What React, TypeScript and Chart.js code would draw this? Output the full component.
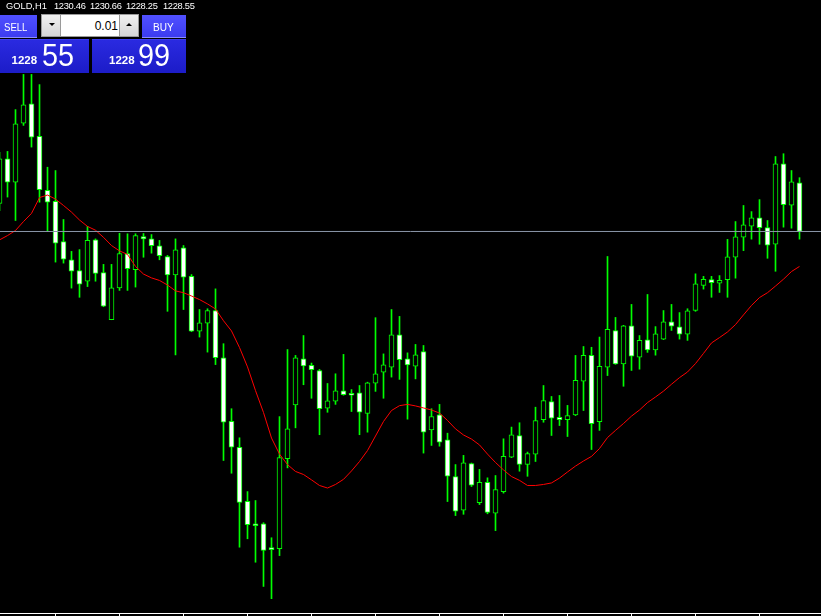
import React, { useEffect, useRef } from "react";
import { Chart, registerables } from "chart.js";

Chart.register(...registerables);

// ---- data (XAUUSD / GOLD, H1) ----
const opens = [
  1229.65, 1231.40, 1230.48, 1232.80, 1233.56, 1232.28, 1230.16, 1229.73, 1228.15, 1227.44,
  1227.02, 1226.60, 1228.22, 1226.94, 1225.09, 1226.34, 1227.68, 1227.05, 1228.35, 1228.26,
  1227.99, 1227.57, 1226.85, 1227.91, 1226.79, 1224.64, 1224.95, 1225.45, 1223.60, 1221.11,
  1220.09, 1217.97, 1217.09, 1217.09, 1216.15, 1216.11, 1219.64, 1221.75, 1223.56, 1223.30,
  1223.10, 1221.62, 1221.90, 1222.30, 1222.20, 1222.22, 1221.42, 1222.60, 1223.03, 1223.23,
  1224.50, 1223.56, 1223.27, 1223.84, 1220.77, 1221.36, 1220.38, 1218.94, 1217.62, 1219.45,
  1217.92, 1218.71, 1217.50, 1218.35, 1219.70, 1220.55, 1219.42, 1219.82, 1221.17, 1221.88,
  1221.26, 1221.17, 1221.36, 1222.68, 1223.69, 1221.09, 1223.23, 1224.66, 1223.36, 1224.85,
  1223.62, 1224.30, 1223.91, 1224.33, 1225.01, 1224.81, 1224.52, 1225.45, 1226.44, 1226.66,
  1226.52, 1226.66, 1227.54, 1228.33, 1228.76, 1229.09, 1228.70, 1228.05, 1231.20, 1229.58,
  1230.46,
];
const highs = [
  1231.65, 1231.69, 1233.33, 1234.71, 1234.71, 1234.31, 1231.07, 1230.94, 1229.02, 1227.77,
  1227.84, 1228.75, 1228.26, 1227.26, 1227.26, 1228.48, 1228.46, 1228.46, 1228.47, 1228.43,
  1228.20, 1227.61, 1228.26, 1228.00, 1226.86, 1225.49, 1225.52, 1226.30, 1224.15, 1221.60,
  1220.46, 1218.35, 1218.00, 1217.13, 1216.54, 1221.29, 1223.92, 1223.69, 1224.47, 1223.39,
  1223.14, 1222.59, 1222.97, 1223.73, 1222.35, 1222.51, 1222.64, 1225.17, 1223.75, 1225.49,
  1225.22, 1223.79, 1224.12, 1224.08, 1221.60, 1221.77, 1220.64, 1219.41, 1219.77, 1219.47,
  1219.22, 1218.89, 1218.98, 1220.42, 1220.88, 1221.05, 1219.90, 1221.66, 1222.51, 1222.08,
  1222.12, 1221.73, 1223.69, 1224.04, 1224.01, 1224.41, 1227.57, 1225.18, 1224.87, 1225.69,
  1224.47, 1226.08, 1224.82, 1225.45, 1225.69, 1225.37, 1225.52, 1226.89, 1226.79, 1226.79,
  1226.82, 1228.24, 1228.94, 1229.57, 1229.33, 1229.80, 1228.98, 1231.49, 1231.60, 1230.94,
  1230.66,
];
const lows = [
  1229.37, 1229.90, 1228.98, 1232.71, 1231.86, 1229.70, 1228.55, 1227.35, 1227.31, 1226.33,
  1225.97, 1226.39, 1226.60, 1225.60, 1225.09, 1226.24, 1226.24, 1226.37, 1227.54, 1227.70,
  1227.44, 1225.42, 1223.71, 1225.49, 1224.62, 1224.41, 1223.82, 1223.33, 1219.57, 1219.07,
  1216.17, 1216.50, 1215.58, 1214.63, 1214.15, 1215.84, 1219.28, 1220.85, 1222.54, 1222.01,
  1220.58, 1221.46, 1221.77, 1222.13, 1221.49, 1220.58, 1220.68, 1222.28, 1222.01, 1222.84,
  1222.75, 1221.19, 1222.77, 1219.86, 1220.16, 1220.13, 1217.96, 1217.41, 1217.46, 1218.55,
  1217.84, 1217.48, 1216.82, 1218.29, 1219.68, 1219.15, 1218.95, 1219.53, 1221.07, 1220.55,
  1220.94, 1220.51, 1221.33, 1221.53, 1220.00, 1220.75, 1222.90, 1223.34, 1222.48, 1223.10,
  1223.15, 1223.81, 1223.70, 1224.31, 1224.67, 1224.33, 1224.28, 1225.42, 1226.29, 1225.97,
  1226.16, 1225.97, 1226.72, 1227.80, 1228.25, 1228.05, 1227.50, 1226.99, 1228.72, 1228.68,
  1228.25,
];
const closes = [
  1231.40, 1230.48, 1232.77, 1233.52, 1232.25, 1230.19, 1229.70, 1228.09, 1227.46, 1226.99,
  1226.48, 1228.20, 1226.91, 1225.62, 1226.34, 1227.68, 1227.09, 1228.39, 1228.26, 1227.99,
  1227.60, 1226.85, 1227.83, 1226.76, 1224.64, 1224.97, 1225.45, 1223.60, 1221.07, 1220.09,
  1217.93, 1217.05, 1217.01, 1216.04, 1216.07, 1219.68, 1220.81, 1223.60, 1223.28, 1223.13,
  1221.60, 1221.91, 1222.30, 1222.15, 1222.13, 1221.46, 1222.62, 1222.97, 1223.32, 1224.50,
  1223.52, 1223.32, 1223.71, 1220.68, 1221.29, 1220.29, 1218.95, 1217.58, 1219.48, 1218.60,
  1218.71, 1217.53, 1218.43, 1219.73, 1220.58, 1219.42, 1219.84, 1221.13, 1221.92, 1221.23,
  1221.17, 1221.33, 1222.71, 1223.69, 1221.01, 1223.26, 1224.71, 1223.36, 1224.85, 1223.66,
  1224.28, 1223.91, 1224.54, 1225.01, 1224.84, 1224.52, 1225.44, 1226.50, 1226.67, 1226.54,
  1226.63, 1227.56, 1228.34, 1228.81, 1229.09, 1228.70, 1228.01, 1231.20, 1229.60, 1230.50,
  1228.55,
];
const maValues = [
  1228.22, 1228.39, 1228.59, 1228.94, 1229.26, 1229.88, 1229.98, 1229.82, 1229.57, 1229.31,
  1229.00, 1228.75, 1228.60, 1228.32, 1228.00, 1227.79, 1227.65, 1227.18, 1226.88, 1226.73,
  1226.63, 1226.45, 1226.22, 1226.15, 1226.02, 1225.88, 1225.71, 1225.51, 1225.05, 1224.65,
  1224.00, 1223.24, 1222.31, 1221.45, 1220.45, 1219.82, 1219.41, 1219.14, 1219.02, 1218.81,
  1218.59, 1218.49, 1218.63, 1218.83, 1219.16, 1219.53, 1219.96, 1220.53, 1221.10, 1221.53,
  1221.72, 1221.77, 1221.71, 1221.63, 1221.55, 1221.43, 1221.14, 1220.81, 1220.57, 1220.41,
  1220.18, 1219.82, 1219.49, 1219.20, 1218.94, 1218.79, 1218.59, 1218.59, 1218.63, 1218.69,
  1218.88, 1219.12, 1219.35, 1219.55, 1219.73, 1220.04, 1220.47, 1220.75, 1221.02, 1221.31,
  1221.55, 1221.84, 1222.06, 1222.29, 1222.56, 1222.82, 1223.04, 1223.37, 1223.77, 1224.18,
  1224.39, 1224.61, 1224.90, 1225.28, 1225.65, 1225.96, 1226.15, 1226.41, 1226.68, 1226.98,
  1227.18,
];
const timeTickIndex = [7, 15, 23, 31, 39, 47, 55, 63, 71, 79, 87, 95];
const bidPrice = 1228.55;
const symbolLabel = "GOLD,H1";
const headerValues = ["1230.46", "1230.66", "1228.25", "1228.55"];
const lotSize = "0.01";
const sellBig = ["1228", "55"];
const buyBig = ["1228", "99"];

// ---- view window ----
const X_MIN = 0.0625;
const X_MAX = 102.6875;
const Y_MAX = 1237.628;
const Y_MIN = 1213.589;

const FONT = "'Liberation Sans', Arial, sans-serif";

export default function App() {
  const canvasRef = useRef<HTMLCanvasElement | null>(null);

  useEffect(() => {
    document.body.style.margin = "0";
    document.body.style.background = "#000";
    const canvas = canvasRef.current;
    if (!canvas) return;
    const idx = opens.map((_, i) => i);
    const chart = new Chart(canvas, {
      type: "bar",
      data: {
        datasets: [
          {
            type: "line",
            label: "Bid",
            data: [
              { x: X_MIN, y: bidPrice },
              { x: X_MAX, y: bidPrice },
            ],
            borderColor: "#8a96a8",
            borderWidth: 1,
            pointRadius: 0,
            order: 0,
          } as any,
          {
            type: "line",
            label: "MA",
            data: idx.map((i) => ({ x: i, y: maValues[i] })),
            borderColor: "#ff0000",
            borderWidth: 1,
            pointRadius: 0,
            tension: 0,
            order: 1,
          } as any,
          {
            type: "bar",
            label: "Body",
            data: idx.map((i) => ({ x: i, y: [opens[i], closes[i]] })),
            backgroundColor: idx.map((i) => (closes[i] < opens[i] ? "#ffffff" : "#000000")),
            borderColor: "#00ff00",
            borderWidth: 1,
            borderSkipped: false,
            barThickness: 5,
            grouped: false,
            order: 2,
          } as any,
          {
            type: "bar",
            label: "Wick",
            data: idx.map((i) => ({ x: i, y: [lows[i], highs[i]] })),
            backgroundColor: "#00ff00",
            borderWidth: 0,
            barThickness: 1,
            grouped: false,
            order: 3,
          } as any,
        ],
      },
      options: {
        responsive: false,
        maintainAspectRatio: false,
        animation: false,
        layout: { padding: 0 },
        plugins: {
          legend: { display: false },
          tooltip: { enabled: false },
        },
        scales: {
          x: {
            type: "linear",
            min: X_MIN,
            max: X_MAX,
            offset: false,
            grid: {
              display: true,
              offset: false,
              drawOnChartArea: false,
              drawTicks: true,
              tickLength: 3,
              color: "#ffffff",
              lineWidth: 1,
            },
            border: { display: true, color: "#ffffff", width: 1 },
            ticks: { display: false },
            afterBuildTicks: (scale: any) => {
              scale.ticks = timeTickIndex.map((v) => ({ value: v }));
            },
          },
          y: {
            type: "linear",
            display: false,
            min: Y_MIN,
            max: Y_MAX,
          },
        },
      } as any,
    });
    return () => chart.destroy();
  }, []);

  const txt = (s: React.CSSProperties): React.CSSProperties => ({
    position: "absolute",
    whiteSpace: "nowrap",
    fontFamily: FONT,
    ...s,
  });

  const headerLeft = [54, 90, 126, 163];

  return (
    <div
      style={{
        position: "relative",
        width: 821,
        height: 616,
        background: "#000",
        overflow: "hidden",
      }}
    >
      <canvas ref={canvasRef} width={821} height={616} style={{ display: "block" }} />

      {/* header line */}
      <span style={txt({ left: 6, top: 2, fontSize: 9.3, lineHeight: "9.3px", color: "#fff" })}>
        {symbolLabel}
      </span>
      {headerValues.map((v, k) => (
        <span
          key={k}
          style={txt({ left: headerLeft[k], top: 2, fontSize: 9.3, lineHeight: "9.3px", color: "#fff", letterSpacing: "-0.3px" })}
        >
          {v}
        </span>
      ))}

      {/* SELL button */}
      <div
        style={{
          position: "absolute",
          left: 0,
          top: 15,
          width: 37,
          height: 22,
          background: "linear-gradient(#5050ff, #3c3cf0)",
          borderBottom: "1px solid #8c8cff",
        }}
      />
      <span
        style={txt({
          left: 4,
          top: 20.8,
          fontSize: 11.7,
          lineHeight: "11.7px",
          color: "#fff",
          transform: "scaleX(0.82)",
          transformOrigin: "left top",
        })}
      >
        SELL
      </span>

      {/* lot control */}
      <div
        style={{
          position: "absolute",
          left: 41,
          top: 14,
          width: 98,
          height: 23,
          background: "#9a9a9a",
        }}
      />
      <div
        style={{
          position: "absolute",
          left: 42,
          top: 15,
          width: 18,
          height: 21,
          background: "linear-gradient(#f0f0f0, #d6d6d6)",
        }}
      />
      <div
        style={{
          position: "absolute",
          left: 61,
          top: 15,
          width: 58,
          height: 21,
          background: "#ffffff",
        }}
      />
      <div
        style={{
          position: "absolute",
          left: 120,
          top: 15,
          width: 18,
          height: 21,
          background: "linear-gradient(#f0f0f0, #d6d6d6)",
        }}
      />
      {/* arrows */}
      <div
        style={{
          position: "absolute",
          left: 49,
          top: 23,
          width: 0,
          height: 0,
          borderLeft: "3px solid transparent",
          borderRight: "3px solid transparent",
          borderTop: "3px solid #000",
        }}
      />
      <div
        style={{
          position: "absolute",
          left: 126,
          top: 23,
          width: 0,
          height: 0,
          borderLeft: "3px solid transparent",
          borderRight: "3px solid transparent",
          borderBottom: "3px solid #000",
        }}
      />
      <span
        style={txt({
          right: 821 - 118,
          top: 19.8,
          fontSize: 12,
          lineHeight: "12px",
          color: "#000",
        })}
      >
        {lotSize}
      </span>

      {/* BUY button */}
      <div
        style={{
          position: "absolute",
          left: 142,
          top: 15,
          width: 44,
          height: 22,
          background: "linear-gradient(#5050ff, #3c3cf0)",
          borderBottom: "1px solid #8c8cff",
        }}
      />
      <span
        style={txt({
          left: 152.5,
          top: 20.8,
          fontSize: 11.7,
          lineHeight: "11.7px",
          color: "#fff",
          transform: "scaleX(0.86)",
          transformOrigin: "left top",
        })}
      >
        BUY
      </span>

      {/* price boxes */}
      <div
        style={{
          position: "absolute",
          left: 0,
          top: 39,
          width: 89,
          height: 33,
          background: "linear-gradient(#2a2ae0, #1c1cc8)",
          borderTop: "1px solid #3a3af0",
        }}
      />
      <div
        style={{
          position: "absolute",
          left: 92,
          top: 39,
          width: 94,
          height: 33,
          background: "linear-gradient(#2a2ae0, #1c1cc8)",
          borderTop: "1px solid #3a3af0",
        }}
      />
      <span
        style={txt({ left: 11.5, top: 54.6, fontSize: 11.5, lineHeight: "11.5px", fontWeight: "bold", color: "#fff" })}
      >
        {sellBig[0]}
      </span>
      <span
        style={txt({
          left: 42,
          top: 38.6,
          fontSize: 32,
          lineHeight: "32px",
          color: "#fff",
          transform: "scaleX(0.9)",
          transformOrigin: "left top",
        })}
      >
        {sellBig[1]}
      </span>
      <span
        style={txt({ left: 109, top: 54.6, fontSize: 11.5, lineHeight: "11.5px", fontWeight: "bold", color: "#fff" })}
      >
        {buyBig[0]}
      </span>
      <span
        style={txt({
          left: 138.3,
          top: 38.6,
          fontSize: 32,
          lineHeight: "32px",
          color: "#fff",
          transform: "scaleX(0.9)",
          transformOrigin: "left top",
        })}
      >
        {buyBig[1]}
      </span>
    </div>
  );
}
